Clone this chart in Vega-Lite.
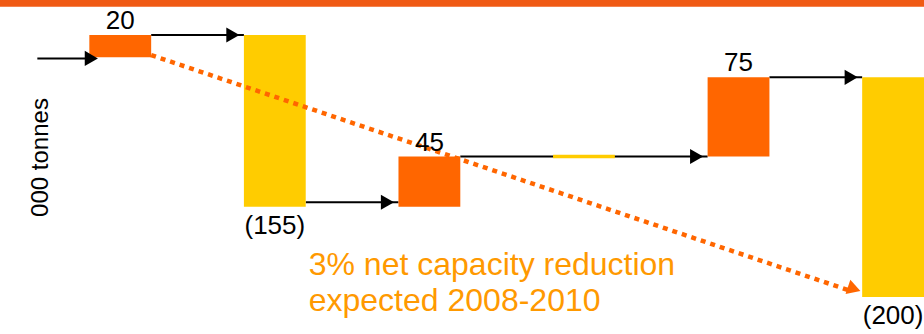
{
  "$schema": "https://vega.github.io/schema/vega-lite/v6.json",
  "width": 924,
  "height": 334,
  "autosize": "none",
  "padding": 0,
  "background": "white",
  "config": {"view": {"stroke": null}, "font": "Liberation Sans"},
  "datasets": {
    "bars": [
      {"step": "A", "start": 0, "end": 20, "label": "20", "type": "increase"},
      {"step": "B", "start": 20, "end": -134, "label": "(155)", "type": "decrease"},
      {"step": "C", "start": -134, "end": -89, "label": "45", "type": "increase"},
      {"step": "D", "start": -89, "end": -89, "label": "", "type": "decrease"},
      {"step": "E", "start": -89, "end": -18, "label": "75", "type": "increase"},
      {"step": "F", "start": -18, "end": -215, "label": "(200)", "type": "decrease"}
    ],
    "links": [
      {"from": "A", "to": "B", "level": 20},
      {"from": "B", "to": "C", "level": -130},
      {"from": "C", "to": "E", "level": -89},
      {"from": "E", "to": "F", "level": -18}
    ],
    "entry": [{"to": "A", "level": -1}],
    "trend": [{"from": "A", "to": "F", "level_start": 2, "level_end": -210}],
    "note": [{"step": "B", "level": -195, "text": ["3% net capacity reduction", "expected 2008-2010"]}],
    "band": [{"top": 51.4, "bottom": 45.3}]
  },
  "layer": [
    {
      "data": {"name": "band"},
      "mark": {"type": "rect", "color": "#F05A14"},
      "encoding": {
        "y": {"field": "top", "type": "quantitative", "scale": {"domain": [-248.2, 51.4], "nice": false, "zero": false},
          "axis": {"title": "000 tonnes", "labels": false, "ticks": false, "domain": false, "grid": false,
            "titleX": 47, "titleY": 157, "titleAngle": -90, "titleAlign": "center", "titleBaseline": "alphabetic",
            "titleFontSize": 24, "titleFont": "Liberation Sans", "titleFontWeight": "normal", "titleColor": "black"}},
        "y2": {"field": "bottom"}
      }
    },
    {
      "data": {"name": "links"},
      "mark": {"type": "rule", "color": "black", "strokeWidth": 2},
      "encoding": {
        "x": {"field": "from", "type": "nominal", "bandPosition": 1,
          "scale": {"domain": ["A", "B", "C", "D", "E", "F"], "paddingInner": 0.6, "paddingOuter": 0.289, "align": 1}, "axis": null},
        "x2": {"field": "to", "bandPosition": 0},
        "y": {"field": "level", "type": "quantitative"}
      }
    },
    {
      "data": {"name": "entry"},
      "mark": {"type": "rule", "color": "black", "strokeWidth": 2, "xOffset": -52, "x2Offset": 0},
      "encoding": {
        "x": {"field": "to", "type": "nominal", "bandPosition": 0},
        "x2": {"field": "to", "bandPosition": 0},
        "y": {"field": "level", "type": "quantitative"}
      }
    },
    {
      "data": {"name": "bars"},
      "mark": {"type": "bar"},
      "encoding": {
        "x": {"field": "step", "type": "nominal"},
        "y": {"field": "start", "type": "quantitative"},
        "y2": {"field": "end"},
        "color": {"field": "type", "type": "nominal", "scale": {"domain": ["increase", "decrease"], "range": ["#FF6600", "#FFCC00"]}, "legend": null},
        "stroke": {"field": "type", "type": "nominal", "scale": {"domain": ["increase", "decrease"], "range": ["#FF6600", "#FFCC00"]}, "legend": null},
        "strokeWidth": {"condition": {"test": "datum.start === datum.end", "value": 3.5}, "value": 0}
      }
    },
    {
      "data": {"name": "trend"},
      "mark": {"type": "rule", "color": "#FF6600", "strokeWidth": 4.5, "strokeDash": [5, 5], "strokeCap": "butt", "x2Offset": -10},
      "encoding": {
        "x": {"field": "from", "type": "nominal", "bandPosition": 1},
        "x2": {"field": "to", "bandPosition": 0},
        "y": {"field": "level_start", "type": "quantitative"},
        "y2": {"field": "level_end"}
      }
    },
    {
      "data": {"name": "trend"},
      "mark": {"type": "point", "shape": "triangle-right", "filled": true, "color": "#FF6600", "opacity": 1, "size": 230, "angle": 18.5, "xOffset": -8, "yOffset": -2.5},
      "encoding": {
        "x": {"field": "to", "type": "nominal", "bandPosition": 0},
        "y": {"field": "level_end", "type": "quantitative"}
      }
    },
    {
      "data": {"name": "links"},
      "mark": {"type": "point", "shape": "triangle-right", "filled": true, "color": "black", "opacity": 1, "size": 230, "xOffset": -11},
      "encoding": {
        "x": {"field": "to", "type": "nominal", "bandPosition": 0},
        "y": {"field": "level", "type": "quantitative"}
      }
    },
    {
      "data": {"name": "entry"},
      "mark": {"type": "point", "shape": "triangle-right", "filled": true, "color": "black", "opacity": 1, "size": 230, "xOffset": 2},
      "encoding": {
        "x": {"field": "to", "type": "nominal", "bandPosition": 0},
        "y": {"field": "level", "type": "quantitative"}
      }
    },
    {
      "data": {"name": "bars"},
      "transform": [{"filter": "datum.type === 'increase'"}],
      "mark": {"type": "text", "baseline": "alphabetic", "dy": -6, "fontSize": 26, "color": "black"},
      "encoding": {
        "x": {"field": "step", "type": "nominal"},
        "y": {"field": "end", "type": "quantitative"},
        "text": {"field": "label"}
      }
    },
    {
      "data": {"name": "bars"},
      "transform": [{"filter": "datum.type === 'decrease' && datum.label !== ''"}],
      "mark": {"type": "text", "baseline": "top", "dy": 6, "fontSize": 26, "color": "black"},
      "encoding": {
        "x": {"field": "step", "type": "nominal"},
        "y": {"field": "end", "type": "quantitative"},
        "text": {"field": "label"}
      }
    },
    {
      "data": {"name": "note"},
      "mark": {"type": "text", "align": "left", "baseline": "alphabetic", "dx": 3, "fontSize": 32, "lineHeight": 36, "color": "#FF9900"},
      "encoding": {
        "x": {"field": "step", "type": "nominal", "bandPosition": 1},
        "y": {"field": "level", "type": "quantitative"},
        "text": {"field": "text"}
      }
    }
  ]
}
